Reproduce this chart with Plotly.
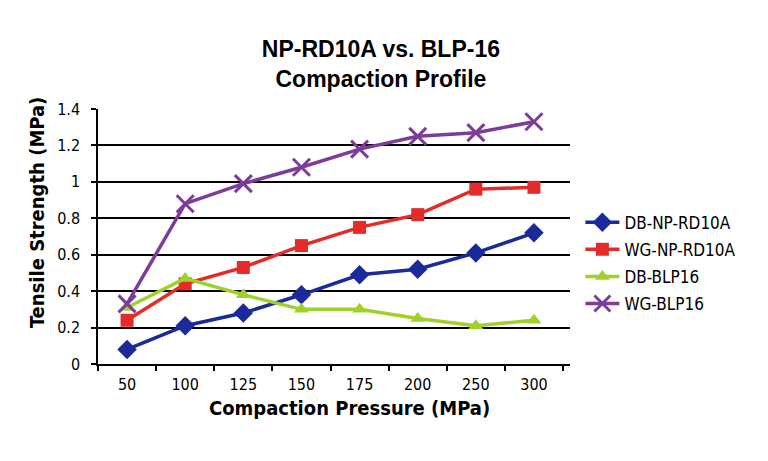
import plotly.graph_objects as go

categories = ["50", "100", "125", "150", "175", "200", "250", "300"]
db_np_rd10a = [0.08, 0.21, 0.28, 0.38, 0.49, 0.52, 0.61, 0.72]
wg_np_rd10a = [0.24, 0.44, 0.53, 0.65, 0.75, 0.82, 0.96, 0.97]
db_blp16 = [0.31, 0.47, 0.38, 0.30, 0.30, 0.25, 0.21, 0.24]
wg_blp16 = [0.33, 0.88, 0.99, 1.08, 1.18, 1.25, 1.27, 1.33]

COND = "Liberation Sans Narrow, DejaVu Sans Condensed, Arial Narrow, sans-serif"

series = [
    ("DB-NP-RD10A", db_np_rd10a, "#1b2a9a", "diamond", 15),
    ("WG-NP-RD10A", wg_np_rd10a, "#e52a2a", "square", 13),
    ("DB-BLP16", db_blp16, "#9fd12a", "triangle-up", 13),
    ("WG-BLP16", wg_blp16, "#7d3c98", "x-thin", 17),
]

fig = go.Figure()
for i, (name, vals, col, sym, size) in enumerate(series):
    fig.add_trace(go.Scatter(
        x=categories, y=vals, name=name, mode="lines+markers",
        line=dict(color=col, width=3.5),
        marker=dict(symbol=sym, size=size, color=col,
                    line=dict(color=col, width=3 if sym == "x-thin" else 0)),
        legendgroup=f"g{i}",
    ))

fig.update_layout(
    width=768, height=461,
    paper_bgcolor="white", plot_bgcolor="white",
    margin=dict(l=98, r=198, t=109, b=97),
    title=dict(text="<b>NP-RD10A vs. BLP-16<br>Compaction Profile</b>",
               font=dict(family="Liberation Sans, Arial, sans-serif", size=23, color="black"),
               xref="container", x=0.496, xanchor="center",
               yref="container", y=1 - 57 / 461, yanchor="middle"),
    showlegend=True,
    legend=dict(x=1.022, xanchor="left", y=0.625, yanchor="top",
                font=dict(family=COND, size=17, color="black"),
                traceorder="grouped", tracegroupgap=2, itemwidth=34,
                bgcolor="rgba(0,0,0,0)"),
    xaxis=dict(type="category", range=[-0.5, 7.62], tickson="boundaries",
               ticks="outside", ticklen=5, tickwidth=1.5, tickcolor="black",
               showline=True, linecolor="black", linewidth=1.5,
               showgrid=False, ticklabelstandoff=5,
               tickfont=dict(family=COND, size=16, color="black")),
    yaxis=dict(range=[0, 1.4], tickvals=[0, 0.2, 0.4, 0.6, 0.8, 1, 1.2, 1.4],
               ticktext=["0", "0.2", "0.4", "0.6", "0.8", "1", "1.2", "1.4"],
               ticks="outside", ticklen=5, tickwidth=1.5, tickcolor="black",
               showline=True, linecolor="black", linewidth=1.5,
               showgrid=True, gridcolor="black", gridwidth=2,
               zeroline=False, ticklabelstandoff=8,
               tickfont=dict(family=COND, size=16, color="black")),
    annotations=[
        dict(text="<b>Compaction Pressure (MPa)</b>", xref="paper", yref="paper",
             x=(349 - 98) / 472, y=-(408 - 364) / 255, xanchor="center", yanchor="middle",
             showarrow=False, font=dict(family=COND, size=20, color="black")),
        dict(text="<b>Tensile Strength (MPa)</b>", xref="paper", yref="paper",
             x=-(98 - 37) / 472, y=(364 - 213) / 255, xanchor="center", yanchor="middle",
             textangle=-90, showarrow=False, font=dict(family=COND, size=20, color="black")),
    ],
)

fig.write_html("out.html")
